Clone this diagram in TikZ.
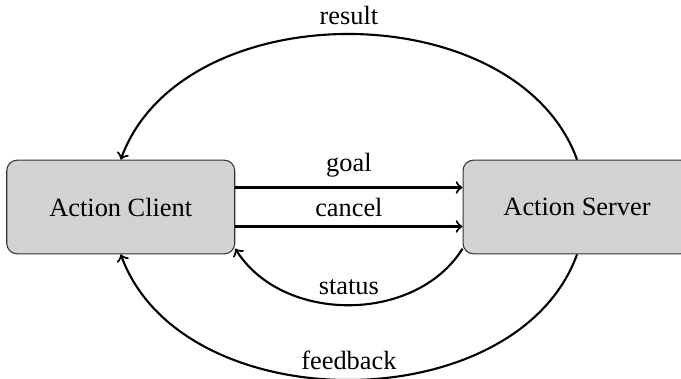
\documentclass[tikz,border=0pt]{standalone}
\usepackage{fontspec}
\setmainfont{Liberation Serif}
\usetikzlibrary{positioning}
\definecolor{boxgray}{RGB}{210,210,210}

\begin{document}
\begin{tikzpicture}[
  actor/.style={draw=black!80, fill=boxgray, rounded corners=4pt, minimum width=3.04cm, minimum height=1.25cm},
  msg/.style={->, thick}]
\useasboundingbox (0,0) rectangle (9.08,5.04);
\node[actor] (client) at (1.61,2.28) {Action Client};
\node[actor, right=3.03cm of client] (server) {Action Server};
% requests
\draw[msg] ([yshift=0.26cm]client.east) -- node[above] {goal} ([yshift=0.26cm]server.west);
\draw[msg] ([yshift=-0.26cm]client.east) -- node[above] {cancel} ([yshift=-0.26cm]server.west);
% replies
\draw[msg] (server.north) to[out=110,in=70] node[above] {result} (client.north);
\draw[msg] (server.200) to[out=-122,in=-58] node[above] {status} (client.-20);
\draw[msg] (server.south) to[out=-110,in=-70] node[above] {feedback} (client.south);
\end{tikzpicture}
\end{document}
